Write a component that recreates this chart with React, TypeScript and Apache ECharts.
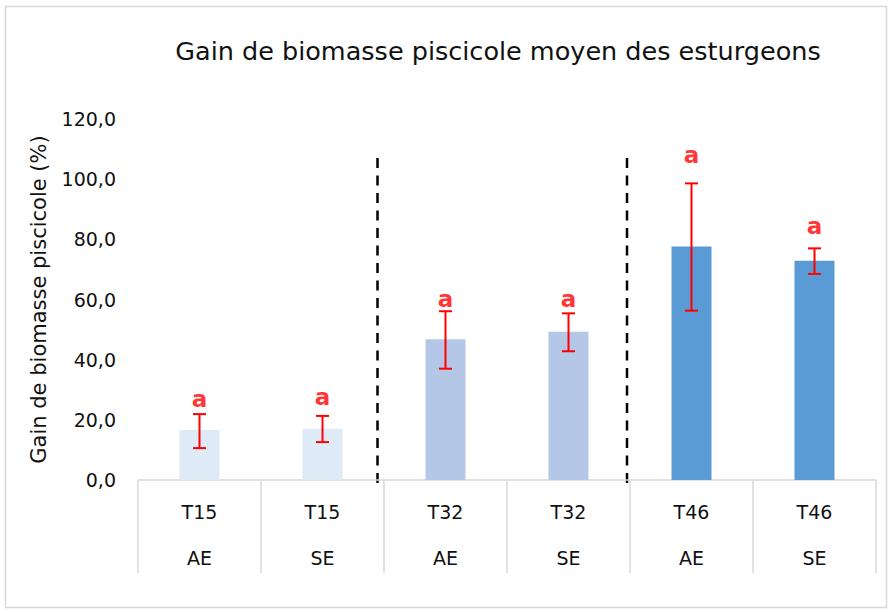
import React, { useEffect, useRef } from "react";
import * as echarts from "echarts";

const treatments = ["T15", "T15", "T32", "T32", "T46", "T46"];
const groups = ["AE", "SE", "AE", "SE", "AE", "SE"];
const meanGain = [16.6, 17.0, 46.8, 49.3, 77.6, 72.9];
const errLow = [10.6, 12.6, 37.0, 42.8, 56.3, 68.5];
const errHigh = [21.9, 21.3, 56.1, 55.4, 98.6, 77.0];
const letters = ["a", "a", "a", "a", "a", "a"];
const letterPos = [26.9, 27.7, 60.1, 60.1, 107.9, 84.5];
const yTicks = [0, 20, 40, 60, 80, 100, 120];

const barColors = ["#DEEAF6", "#DEEAF6", "#B4C7E7", "#B4C7E7", "#5B9BD5", "#5B9BD5"];
const FONT = "DejaVu Sans";

export default function App() {
  const ref = useRef<HTMLDivElement>(null);
  useEffect(() => {
    if (!ref.current) return;
    const chart = echarts.init(ref.current, null, { renderer: "svg" });
    const cats = treatments.map((t, i) => `${t}\n${groups[i]}`);
    chart.setOption({
      animation: false,
      backgroundColor: "#ffffff",
      grid: { left: 138, right: 14, top: 119, bottom: 132, containLabel: false },
      graphic: [
        {
          type: "rect",
          shape: { x: 5.5, y: 6.5, width: 881, height: 601 },
          style: { fill: "none", stroke: "#d9d9d9", lineWidth: 1.5 },
          silent: true,
        },
        {
          type: "text",
          x: 498,
          y: 51,
          style: {
            text: "Gain de biomasse piscicole moyen des esturgeons",
            font: `25.5px "${FONT}"`,
            fill: "#111111",
            textAlign: "center",
            textVerticalAlign: "middle",
          },
        },
        {
          type: "line",
          shape: { x1: 377.5, y1: 158, x2: 377.5, y2: 484 },
          style: { stroke: "#000", lineWidth: 2.5, lineDash: [10, 7.5] },
          silent: true,
        },
        {
          type: "line",
          shape: { x1: 627, y1: 158, x2: 627, y2: 484 },
          style: { stroke: "#000", lineWidth: 2.5, lineDash: [10, 7.5] },
          silent: true,
        },
      ],
      xAxis: {
        type: "category",
        data: cats,
        axisLine: { show: true, lineStyle: { color: "#d9d9d9", width: 1.5 } },
        axisTick: { show: true, interval: 0, length: 93, lineStyle: { color: "#d9d9d9", width: 1.5 } },
        axisLabel: {
          interval: 0,
          margin: 9,
          lineHeight: 46,
          fontFamily: FONT,
          fontSize: 19,
          color: "#111111",
        },
      },
      yAxis: {
        type: "value",
        min: 0,
        max: 120,
        interval: 20,
        splitLine: { show: false },
        axisLine: { show: false },
        axisTick: { show: false },
        axisLabel: {
          margin: 22,
          fontFamily: FONT,
          fontSize: 19,
          color: "#111111",
          formatter: (v: number) => (yTicks.includes(v) ? v.toFixed(1).replace(".", ",") : ""),
        },
        name: "Gain de biomasse piscicole (%)",
        nameLocation: "middle",
        nameRotate: 90,
        nameGap: 89,
        nameTextStyle: { fontFamily: FONT, fontSize: 21, color: "#111111" },
      },
      series: [
        {
          type: "bar",
          barWidth: 40,
          data: meanGain.map((v, i) => ({ value: v, itemStyle: { color: barColors[i] } })),
        },
        {
          type: "custom",
          z: 5,
          data: meanGain.map((_, i) => [i, errLow[i], errHigh[i]]),
          renderItem: (params: any, api: any) => {
            const idx = api.value(0);
            const lo = api.coord([idx, api.value(1)]);
            const hi = api.coord([idx, api.value(2)]);
            const hw = 6.5;
            const st = { stroke: "#ff0000", lineWidth: 2 };
            return {
              type: "group",
              children: [
                { type: "line", shape: { x1: hi[0], y1: hi[1], x2: lo[0], y2: lo[1] }, style: st },
                { type: "line", shape: { x1: hi[0] - hw, y1: hi[1], x2: hi[0] + hw, y2: hi[1] }, style: st },
                { type: "line", shape: { x1: lo[0] - hw, y1: lo[1], x2: lo[0] + hw, y2: lo[1] }, style: st },
              ],
            };
          },
        },
        {
          type: "scatter",
          symbolSize: 0,
          z: 6,
          data: letterPos.map((v, i) => [i, v]),
          label: {
            show: true,
            position: "inside",
            formatter: (p: any) => letters[p.dataIndex],
            fontFamily: FONT,
            fontWeight: "bold",
            fontSize: 23,
            color: "#ff0000",
          },
        },
      ],
    });
    return () => chart.dispose();
  }, []);
  return (
    <div
      ref={ref}
      style={{ position: "fixed", left: 0, top: 0, width: 890, height: 612, background: "#fff" }}
    />
  );
}
